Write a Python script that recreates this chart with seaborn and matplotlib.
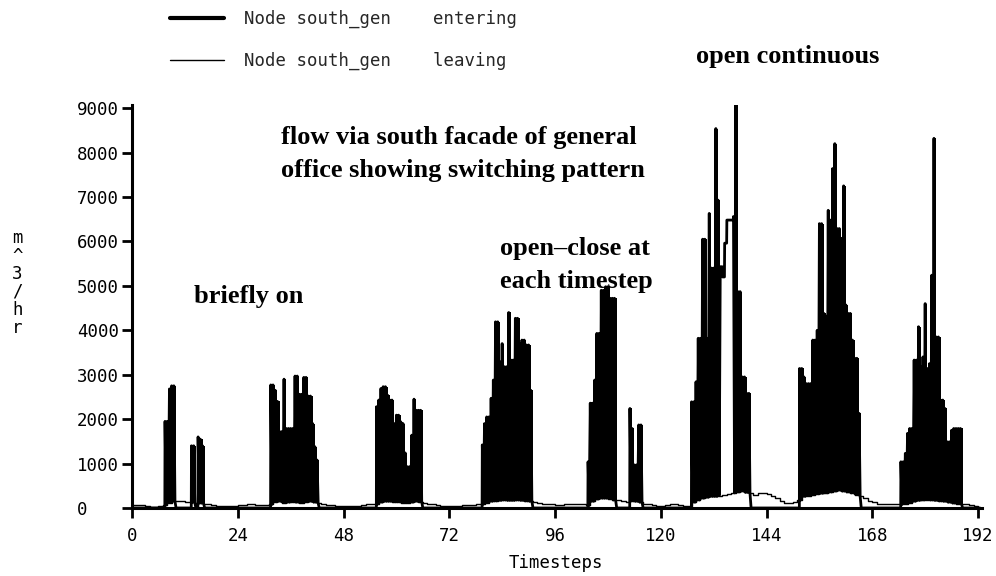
import matplotlib.pyplot as plt
import numpy as np
import pandas as pd
import seaborn as sns

# Flow leaving node south_gen, one value for each timestep 0..192 (m^3/hr)
leaving = [
    70, 70, 60, 40, 30, 30, 50, 70,
    120, 150, 150, 150, 140, 130, 120, 110, 100,
    80, 60, 50, 40, 40, 40, 50, 60, 70, 90, 90, 70, 60, 60,
    80, 140, 150, 120, 130, 140, 130, 120, 140, 150, 130, 110, 90,
    70, 60, 50, 50, 50, 40, 40, 40, 60, 80, 90, 90,
    130, 150, 150, 140, 140, 120, 120, 130, 150, 140, 120,
    90, 80, 60, 50, 40, 40, 40, 50, 60, 60, 70, 80, 90,
    120, 150, 160, 170, 180, 170, 170, 180, 170, 160, 150, 130,
    110, 100, 100, 80, 60, 60, 80, 90, 100, 100, 80, 60,
    150, 200, 220, 220, 210, 180, 170, 150, 140, 160, 150, 130, 100,
    80, 60, 50, 50, 70, 80, 80, 60, 50, 40,
    130, 180, 220, 240, 260, 260, 280, 300, 320, 340, 360, 380, 350, 330, 300,
    340, 330, 320, 280, 220, 160, 120, 110, 130, 180,
    260, 280, 300, 320, 330, 340, 360, 380, 400, 380, 360, 340, 300, 260, 230,
    150, 130, 100, 80, 80, 80, 80, 80,
    100, 120, 150, 170, 180, 190, 180, 170, 160, 150, 130, 110, 100, 90,
    80, 60, 50, 40,
]

# Flow entering node south_gen. The opening switches open/closed, so each
# burst is a start timestep and the flow reached every half timestep after it
burst_start = [7.5, 13.5, 15.0, 31.5, 55.5, 79.5, 103.5, 113.0, 127.0, 136.5, 151.5, 174.5]
burst_flow = [
    [1950, 1950, 2680, 2750, 2750],
    [1400, 1400],
    [1600, 1550, 1400],
    [2770, 2770, 2650, 2400, 1720, 1720, 2900, 1790, 1790, 1790, 1790,
     2970, 2970, 2560, 2560, 2940, 2940, 2520, 2520, 1900, 1380, 1080],
    [2280, 2430, 2690, 2730, 2730, 2540, 2430, 2430, 1900, 2090, 2090,
     1940, 1900, 1240, 930, 930, 1640, 2450, 2200, 2200, 2200],
    [1420, 1900, 2050, 2050, 2470, 2880, 4190, 4190, 3290, 3700, 3180, 3180,
     4400, 3330, 3330, 4270, 4270, 3700, 3780, 3780, 3670, 3670, 2650],
    [1040, 2360, 2360, 2880, 3930, 3930, 4900, 4900, 4980, 4980, 4720, 4720, 4720],
    [2240, 1790, 970, 970, 1870, 1870],
    [2390, 2390, 2840, 3820, 3820, 6050, 6050, 3820, 6630, 5400, 5400, 8540, 6930],
    [6560, 9070, 4870, 4870, 2950, 2950, 2580, 2580],
    [3140, 3140, 2950, 2800, 2800, 2800, 3780, 3780, 4000, 6400, 6400, 4380, 4320, 6700,
     6480, 7640, 8200, 6290, 6290, 6070, 7250, 4570, 4380, 4380, 3780, 3370, 3370, 2130],
    [1040, 1040, 1230, 1680, 1790, 1790, 3330, 3330, 4080, 3180, 3400, 4600, 3140, 3250,
     5240, 8320, 3850, 3850, 2430, 2430, 2240, 1490, 1490, 1750, 1790, 1790, 1790, 1790],
]

# stretch where the opening stays open (no switching)
open_start = 133.5
open_flow = [5430, 5200, 5960, 6480, 6480, 6480]

legend_labels = ["Node south_gen    entering", "Node south_gen    leaving"]

sns.set_theme(style="ticks")
plt.rcParams["font.family"] = ["DejaVu Sans Mono"]
mono = {"family": "DejaVu Sans Mono", "size": 12.5, "color": "black"}
serif = {"family": "Liberation Serif", "weight": "bold", "size": 19, "color": "black"}

hours = np.arange(len(leaving))
half = np.arange(0, 192.5, 0.5)
entering = np.zeros(len(half))
switching_bin = np.zeros(len(half), dtype=bool)
switching = list(zip(burst_start, burst_flow))
for start, flow in switching:
    i0 = int(start * 2)
    entering[i0:i0 + len(flow)] = flow
    switching_bin[i0:i0 + len(flow)] = True
i0 = int(open_start * 2)
entering[i0:i0 + len(open_flow)] = open_flow

# entering line: while switching it drops back to the leaving level
# between openings, otherwise it holds its value through the half step
line_t, line_v = [], []
for i, t in enumerate(half):
    if switching_bin[i]:
        line_t += [t, t + 0.25]
        line_v += [entering[i], leaving[int(t)]]
    else:
        line_t += [t, t + 0.45]
        line_v += [entering[i], entering[i]]

fig = plt.figure(figsize=(9.96, 5.76), dpi=100)
ax = fig.add_axes([132 / 996, 68 / 576, 850 / 996, 403 / 576])

# switching bursts look solid: one black block per half timestep
for start, flow in switching:
    x = start + 0.5 * np.arange(len(flow))
    low = np.array([leaving[int(v)] for v in x])
    ax.bar(x, np.array(flow) - low, bottom=low, width=0.5, align="edge",
           color="black", linewidth=0, zorder=2)

df_in = pd.DataFrame({"t": line_t, "flow": line_v})
df_out = pd.DataFrame({"t": hours, "flow": leaving})
sns.lineplot(data=df_in, x="t", y="flow", color="black", lw=2.0, estimator=None,
             sort=False, label=legend_labels[0], ax=ax, zorder=4)
sns.lineplot(data=df_out, x="t", y="flow", color="black", lw=1.0,
             drawstyle="steps-post", label=legend_labels[1], ax=ax, zorder=5)

ax.set_xlim(0, 192.9)
ax.set_ylim(0, 9070)
ax.set_xticks(np.arange(0, 193, 24))
ax.set_yticks(np.arange(0, 9001, 1000))
sns.despine(ax=ax)
for side in ["left", "bottom"]:
    ax.spines[side].set_linewidth(2.2)
    ax.spines[side].set_color("black")
    ax.spines[side].set_capstyle("projecting")
ax.tick_params(axis="both", direction="out", length=7.5, width=2.0, color="black",
               labelsize=12.5, labelcolor="black")
ax.tick_params(axis="y", pad=32)
ax.tick_params(axis="x", pad=6)
for lbl in ax.get_yticklabels():
    lbl.set_horizontalalignment("left")
ax.set_xlabel("Timesteps", fontdict=mono, va="center")
ax.xaxis.set_label_coords(0.499, -0.1365)
ax.set_ylabel("")

handles, labels = ax.get_legend_handles_labels()
ax.get_legend().remove()
leg = fig.legend(handles[:2], labels[:2], loc="upper left",
                 bbox_to_anchor=(170 / 996, 1 - 10 / 576), frameon=False,
                 prop={"family": "DejaVu Sans Mono", "size": 12.5},
                 handlelength=3.1, handletextpad=1.15, labelspacing=1.35,
                 borderpad=0, borderaxespad=0)
leg.legend_handles[0].set_linewidth(3.0)
leg.legend_handles[1].set_linewidth(1.0)

fig.text(17.5 / 996, 1 - 283 / 576, "m\n^\n3\n/\nh\nr", ha="center", va="center",
         linespacing=1.0, fontdict=mono)

fig.text(696 / 996, 1 - 57 / 576, "open continuous", va="center", fontdict=serif)
fig.text(281 / 996, 1 - 154 / 576,
         "flow via south facade of general\noffice showing switching pattern",
         va="center", linespacing=1.6, fontdict=serif)
fig.text(500 / 996, 1 - 265 / 576, "open–close at\neach timestep",
         va="center", linespacing=1.6, fontdict=serif)
fig.text(194 / 996, 1 - 296 / 576, "briefly on", va="center", fontdict=serif)

fig.savefig("out.png", dpi=100)
plt.close(fig)
